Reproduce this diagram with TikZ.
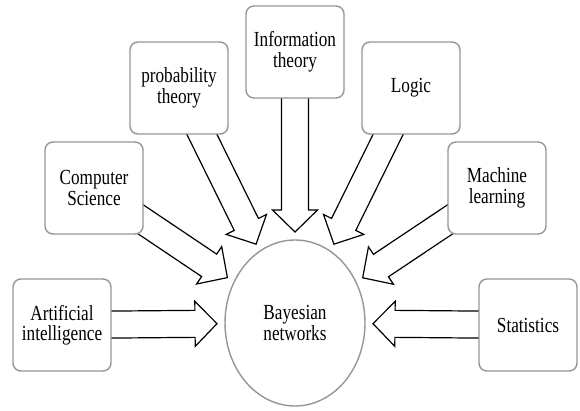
\documentclass[tikz,border=0pt]{standalone}
\usepackage{fontspec}
\setmainfont[FakeStretch=0.8]{Liberation Serif}
\usetikzlibrary{calc,backgrounds,shapes.geometric}
\definecolor{framegray}{RGB}{150,150,150}

\newcommand{\fatarrow}[2]{%
  \path (#1.center) -- coordinate[pos=1] (#1-tip) (#2);
  \coordinate (#1-base) at ($(#1-tip)!22pt!(#1.center)$);
  \filldraw[fatline] ($(#1.center)!13.5pt!90:(#1-tip)$) -- ($(#1-base)!13.5pt!90:(#1-tip)$)
    -- ($(#1-base)!22.5pt!90:(#1-tip)$) -- (#1-tip) -- ($(#1-base)!22.5pt!-90:(#1-tip)$)
    -- ($(#1-base)!13.5pt!-90:(#1-tip)$) -- ($(#1.center)!13.5pt!-90:(#1-tip)$) -- cycle;
}

\begin{document}
\begin{tikzpicture}[x=1pt, y=1pt,
    topic/.style={draw=framegray, fill=white, line width=1.4pt, rounded corners=8pt, minimum width=98pt, minimum height=92pt, align=center, inner sep=2pt, font=\fontsize{21.5}{20.5}\selectfont},
    hub/.style={ellipse, draw=framegray, fill=white, line width=1.4pt, minimum width=140pt, minimum height=166pt, inner sep=0pt, outer sep=8pt, align=center, font=\fontsize{21.5}{20.5}\selectfont},
    fatline/.style={fill=white, draw=black, line width=1.2pt, miter limit=10}
  ]
  \useasboundingbox (0,0) rectangle (580,410);

  \node[hub] (bn) at (295,87) {Bayesian\\networks};

  \node[topic] (ai) at (62,85) {Artificial\\intelligence};
  \node[topic] (cs) at (94,222) {Computer\\Science};
  \node[topic] (pt) at (179,322) {probability\\theory};
  \node[topic] (it) at (295,358) {Information\\theory};
  \node[topic] (lg) at (411,322) {Logic};
  \node[topic] (ml) at (497,222) {Machine\\learning};
  \node[topic] (st) at (528,85) {Statistics};

  \begin{scope}[on background layer]
    \fatarrow{ai}{bn}
    \fatarrow{cs}{bn}
    \fatarrow{pt}{bn}
    \fatarrow{it}{bn}
    \fatarrow{lg}{bn}
    \fatarrow{ml}{bn}
    \fatarrow{st}{bn}
  \end{scope}
\end{tikzpicture}
\end{document}
